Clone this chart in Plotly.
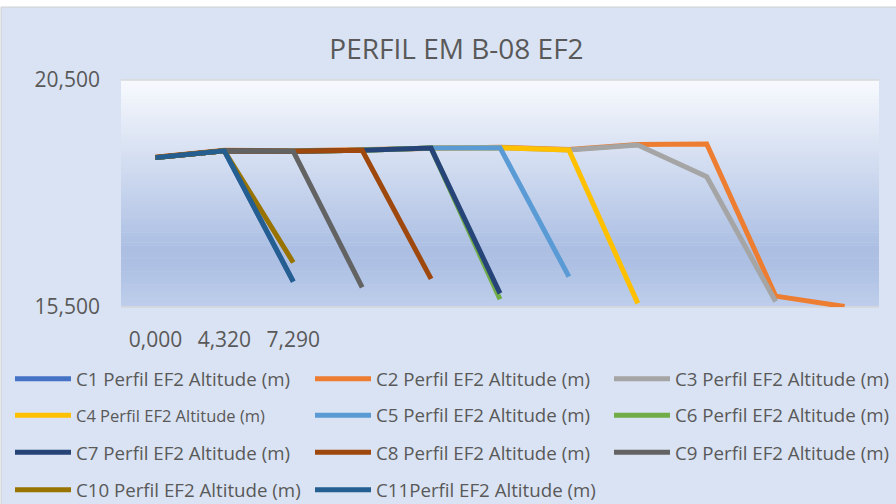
import plotly.graph_objects as go

# ---------------- data ----------------
categories = ["0,000", "4,320", "7,290", "", "", "", "", "", "", "", ""]

c1 = [18.79, 18.94, 16.06, None, None, None, None, None, None, None, None]
c2 = [18.80, 18.95, 18.94, 18.96, 19.00, 19.02, 18.97, 19.08, 19.09, 15.74, 15.51]
c3 = [18.79, 18.94, 18.93, 18.95, 19.00, 19.01, 18.96, 19.07, 18.37, 15.62, None]
c4 = [18.79, 18.94, 18.93, 18.95, 19.00, 19.01, 18.96, 15.58, None, None, None]
c5 = [18.79, 18.94, 18.93, 18.95, 19.00, 19.01, 16.17, None, None, None, None]
c6 = [18.79, 18.94, 18.93, 18.95, 19.00, 15.67, None, None, None, None, None]
c7 = [18.79, 18.94, 18.93, 18.95, 19.00, 15.80, None, None, None, None, None]
c8 = [18.80, 18.94, 18.93, 18.95, 16.12, None, None, None, None, None, None]
c9 = [18.79, 18.94, 18.93, 15.93, None, None, None, None, None, None, None]
c10 = [18.79, 18.94, 16.48, None, None, None, None, None, None, None, None]
c11 = [18.79, 18.94, 16.06, None, None, None, None, None, None, None, None]

series_names = [
    "C1 Perfil EF2 Altitude (m)", "C2 Perfil EF2 Altitude (m)", "C3 Perfil EF2 Altitude (m)",
    '<span style="font-size:16.5px">C4 Perfil EF2 Altitude (m)</span>',
    "C5 Perfil EF2 Altitude (m)", "C6 Perfil EF2 Altitude (m)",
    "C7 Perfil EF2 Altitude (m)", "C8 Perfil EF2 Altitude (m)", "C9 Perfil EF2 Altitude (m)",
    "C10 Perfil EF2 Altitude (m)", "C11Perfil EF2 Altitude (m)",
]
series_values = [c1, c2, c3, c4, c5, c6, c7, c8, c9, c10, c11]
series_colors = ["#4472C4", "#ED7D31", "#A5A5A5", "#FFC000", "#5B9BD5", "#70AD47",
                 "#264478", "#9E480E", "#636363", "#997300", "#255E91"]

y_ticks = [15.5, 20.5]
y_ticktext = ["15,500", "20,500"]

# ---------------- figure ----------------
W, H = 896, 504
L, R, T, B = 121, 17, 80, 197
PW, PH = W - L - R, H - T - B


def px_x(p):
    return (p - L) / PW


def px_y(p):
    return (H - B - p) / PH


x_idx = list(range(len(categories)))
fig = go.Figure()
legend_ids = ["legend" if i == 0 else "legend%d" % (i + 1) for i in range(len(series_names))]
for name, vals, col, lg in zip(series_names, series_values, series_colors, legend_ids):
    fig.add_trace(go.Scatter(
        x=x_idx, y=vals, name=name, mode="lines",
        line=dict(color=col, width=5), legend=lg, connectgaps=False,
        hoverinfo="skip",
    ))

shapes = []
# chart area background with border
shapes.append(dict(type="rect", xref="paper", yref="paper",
                   x0=px_x(1), x1=px_x(905), y0=px_y(515), y1=px_y(7),
                   fillcolor="#DAE3F3", line=dict(color="#D0D0D0", width=1), layer="below"))

# plot area gradient
stops = [(0.0, (248, 250, 254)), (0.74, (172, 191, 227)), (0.83, (174, 193, 228)), (1.0, (191, 206, 235))]


def col_at(f):
    for (f0, c0), (f1, c1_) in zip(stops[:-1], stops[1:]):
        if f0 <= f <= f1:
            t = (f - f0) / (f1 - f0) if f1 > f0 else 0
            return tuple(round(a + (b - a) * t) for a, b in zip(c0, c1_))
    return stops[-1][1]


N = 70
for i in range(N):
    f_top = i / N
    f_bot = (i + 1) / N
    c = col_at((f_top + f_bot) / 2)
    shapes.append(dict(type="rect", xref="x domain", yref="y domain",
                       x0=0, x1=1, y0=1 - f_bot - 0.002, y1=1 - f_top,
                       fillcolor="rgb(%d,%d,%d)" % c, line=dict(width=0), layer="below"))
# major gridlines at the axis extremes
for yv in (0, 1):
    shapes.append(dict(type="line", xref="x domain", yref="y domain", x0=0, x1=1, y0=yv, y1=yv,
                       line=dict(color="#D9D9D9", width=1.5), layer="below"))

leg_font = dict(family="Open Sans", size=18.7, color="#595959")
legend_common = dict(orientation="h", xanchor="left", yanchor="middle",
                     bgcolor="rgba(0,0,0,0)", font=leg_font, itemwidth=56,
                     itemclick=False, itemdoubleclick=False, borderwidth=0)
col_px = [10, 310, 609]
row_px = [379, 415.5, 452.7, 490]
legends = {}
for i, lg in enumerate(legend_ids):
    r, c = divmod(i, 3)
    legends[lg] = dict(legend_common, x=px_x(col_px[c]), y=px_y(row_px[r]))

fig.update_layout(
    width=W, height=H,
    margin=dict(l=L, r=R, t=T, b=B, pad=0, autoexpand=False),
    paper_bgcolor="white",
    plot_bgcolor="rgba(0,0,0,0)",
    font=dict(family="Open Sans", color="#595959"),
    title=dict(text="PERFIL EM B-08 EF2", x=456.5 / W, xanchor="center", xref="container",
               y=1 - 49 / H, yanchor="middle", yref="container",
               font=dict(family="Open Sans", size=28, color="#595959")),
    xaxis=dict(range=[-0.5, len(categories) - 0.5], tickvals=x_idx, ticktext=categories,
               showgrid=False, zeroline=False, showline=False, ticks="",
               tickfont=dict(family="Open Sans", size=21, color="#595959"),
               ticklabelstandoff=18, fixedrange=True),
    yaxis=dict(range=[15.5, 20.5], tickvals=y_ticks, ticktext=y_ticktext,
               showgrid=False, zeroline=False, showline=False, ticks="",
               tickfont=dict(family="Open Sans", size=21, color="#595959"),
               ticklabelstandoff=20, fixedrange=True),
    shapes=shapes,
    showlegend=True,
    **legends,
)

fig.write_html("out.html", config={"displayModeBar": False},
               post_script="document.body.style.margin='0';document.body.style.padding='0';")
